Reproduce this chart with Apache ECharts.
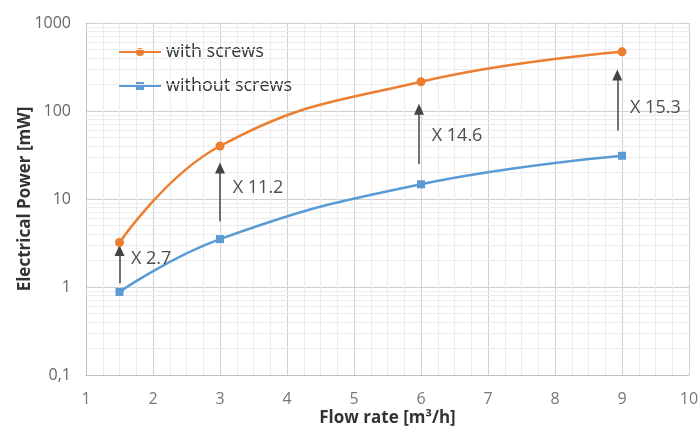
<!DOCTYPE html>
<html><head><meta charset="utf-8">
<script src="https://cdn.jsdelivr.net/npm/echarts@6/dist/echarts.min.js"></script>
<style>html,body{margin:0;padding:0;background:#fff}#c{width:700px;height:426px}</style>
</head><body><div id="c"></div>
<script>
// Data
const flowRate = [1.5, 3, 6, 9];
const withScrews = [3.2, 40, 215, 470];
const withoutScrews = [0.88, 3.5, 14.7, 31];
const xTicks = [1,2,3,4,5,6,7,8,9,10];
const yTicks = [0.1, 1, 10, 100, 1000];
// annotation arrows: [x, from, to]
const arrows = [[1.5, 1.1, 2.6], [3, 5.6, 22.5], [5.97, 25, 105], [8.93, 60, 257]];
// annotation labels: [x, y, text]
const ratioLabels = [[1.67, 2.1, 'X 2.7'], [3.19, 13.3, 'X 11.2'], [6.16, 52, 'X 14.6'], [9.12, 108, 'X 15.3']];
// log minor grid values
const minorY = [];
[0.1, 1, 10, 100].forEach(d => { for (let m = 2; m <= 9; m++) minorY.push(+(m * d).toPrecision(3)); });

const FONT = 'Open Sans';
const chart = echarts.init(document.getElementById('c'), null, {renderer: 'canvas'});
chart.setOption({
  animation: false,
  textStyle: {fontFamily: FONT},
  grid: {left: 86, right: 11, top: 23, bottom: 51, containLabel: false, outerBoundsMode: 'none'},
  legend: {
    orient: 'vertical', left: 113, top: 38, itemWidth: 42, itemHeight: 10, itemGap: 16,
    textStyle: {fontFamily: FONT, fontSize: 18, color: '#333'},
    data: [{name: 'with screws'}, {name: 'without screws'}]
  },
  xAxis: {
    type: 'value', min: 1, max: 10, interval: 1,
    name: 'Flow rate [m³/h]', nameLocation: 'middle', nameGap: 35, nameMoveOverlap: false,
    nameTextStyle: {fontFamily: FONT, fontSize: 17, fontWeight: 'bold', color: '#333'},
    axisLine: {lineStyle: {color: '#bfbfbf'}},
    axisTick: {show: false},
    axisLabel: {fontSize: 16, color: '#777', margin: 16},
    splitLine: {show: true, lineStyle: {color: '#d0d0d0', width: 1}},
    minorTick: {show: false, splitNumber: 4},
    minorSplitLine: {show: true, lineStyle: {color: '#ececec', width: 1}}
  },
  yAxis: {
    type: 'log', logBase: 10, min: 0.1, max: 1000,
    name: 'Electrical Power [mW]', nameLocation: 'middle', nameGap: 52, nameMoveOverlap: false,
    nameTextStyle: {fontFamily: FONT, fontSize: 17, fontWeight: 'bold', color: '#333'},
    axisLine: {show: true, lineStyle: {color: '#bfbfbf'}},
    axisTick: {show: false},
    axisLabel: {fontSize: 16, color: '#666', margin: 15,
      formatter: v => String(+v.toPrecision(3)).replace('.', ',')},
    splitLine: {show: true, lineStyle: {color: '#d0d0d0', width: 1}}
  },
  series: [
    {
      type: 'line', name: 'minor-grid', data: [], silent: true, z: 0,
      markLine: {
        silent: true, symbol: ['none', 'none'], label: {show: false}, animation: false,
        lineStyle: {color: '#ececec', type: 'solid', width: 1},
        data: minorY.map(v => ({yAxis: v}))
      }
    },
    {
      type: 'line', name: 'with screws', smooth: 0.45,
      data: flowRate.map((x, i) => [x, withScrews[i]]),
      symbol: 'circle', symbolSize: 9,
      itemStyle: {color: '#ED7D31'}, lineStyle: {color: '#ED7D31', width: 2.5}, z: 5
    },
    {
      type: 'line', name: 'without screws', smooth: 0.45,
      data: flowRate.map((x, i) => [x, withoutScrews[i]]),
      symbol: 'rect', symbolSize: 8,
      itemStyle: {color: '#5B9BD5'}, lineStyle: {color: '#5B9BD5', width: 2.5}, z: 5
    },
    {
      type: 'line', name: 'arrows', data: [], silent: true, z: 6,
      markLine: {
        silent: true, symbol: ['none', 'triangle'], symbolSize: [10, 11], label: {show: false}, animation: false,
        lineStyle: {color: '#444', type: 'solid', width: 1.5},
        data: arrows.map(a => [{coord: [a[0], a[1]]}, {coord: [a[0], a[2]]}])
      }
    },
    {
      type: 'scatter', name: 'ratios', symbolSize: 0, silent: true, z: 10,
      data: ratioLabels.map(l => ({value: [l[0], l[1]], label: {formatter: l[2]}})),
      label: {show: true, position: 'right', distance: 0, fontFamily: FONT, fontSize: 18, color: '#222'}
    }
  ]
});
</script></body></html>
